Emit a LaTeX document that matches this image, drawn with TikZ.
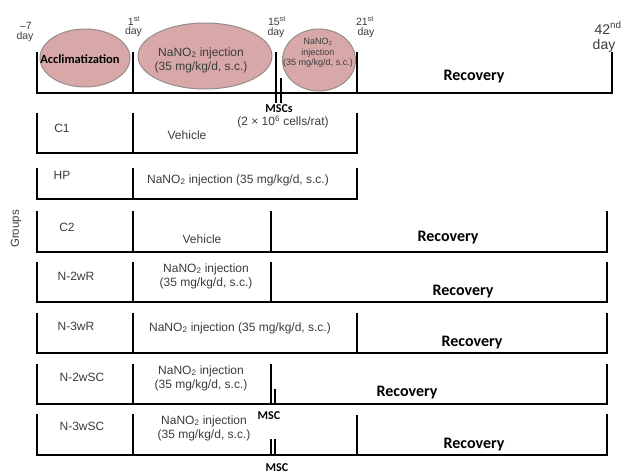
\documentclass[tikz,border=0pt]{standalone}
\usepackage{fontspec}
\setmainfont{Liberation Sans}
\newfontfamily\calfont{Carlito}
\usetikzlibrary{shapes.geometric}
\definecolor{ellfill}{RGB}{216,168,168}
\definecolor{ellline}{RGB}{150,140,140}
\definecolor{txt}{RGB}{60,60,60}
\begin{document}
\begin{tikzpicture}[x=1pt,y=-1pt,
  bar/.style={line width=1.6pt},
  ar/.style={font=\fontsize{12}{14}\selectfont, text=txt, inner sep=0pt, align=center},
  sm/.style={font=\fontsize{10.5}{12}\selectfont, text=txt, inner sep=0pt, align=center},
  tiny/.style={font=\fontsize{9}{10.5}\selectfont, text=txt, inner sep=0pt, align=center},
  big/.style={font=\fontsize{14}{15}\selectfont, text=txt, inner sep=0pt},
  rec/.style={font=\calfont\bfseries\fontsize{16}{18}\selectfont, inner sep=0pt},
  msc/.style={font=\calfont\bfseries\fontsize{12}{13}\selectfont, inner sep=0pt},
  ell/.style={ellipse, fill=ellfill, draw=ellline, line width=1pt, inner sep=0pt}]
\useasboundingbox (0,0) rectangle (622,475);
\fill[white] (0,0) rectangle (622,475);
% ellipses
\node[ell, minimum width=90pt, minimum height=58pt] (e1) at (85,58) {};
\node[ell, minimum width=134pt, minimum height=66pt] (e2) at (205,56) {};
\node[ell, minimum width=73pt, minimum height=62pt] (e3) at (319,60) {};
\node[font=\calfont\bfseries\fontsize{12.5}{14}\selectfont, inner sep=0pt] (acc) at (80,59) {Acclimatization};
\node[ar] (e2t) at (201,60) {NaNO\textsubscript{2} injection\\(35 mg/kg/d, s.c.)};
\node[tiny] (e3t) at (318,53) {NaNO\textsubscript{2}\\injection\\(35 mg/kg/d, s.c.)};
% timeline
\draw[bar] (37,52) -- (37,93) -- (612,93) -- (612,52);
\draw[bar] (133,52) -- (133,93);
\draw[bar] (276,52) -- (276,103);
\draw[bar] (281,78) -- (281,103);
\draw[bar] (357,52) -- (357,93);
% day labels
\node[sm] (dm7) at (26,26) {–7};
\node[sm] (dm7d) at (25,37) {day};
\node[sm] (d1) at (134,21) {1\textsuperscript{st}};
\node[sm] (d1d) at (133.5,32) {day};
\node[sm] (d15) at (277,21) {15\textsuperscript{st}};
\node[sm] (d15d) at (276,33) {day};
\node[sm] (d21) at (365,21) {21\textsuperscript{st}};
\node[sm] (d21d) at (366,33) {day};
\node[big] (d42) at (608,28) {42\textsuperscript{nd}};
\node[big] (d42d) at (604,45.5) {day};
\node[rec] (rtop) at (474,77) {Recovery};
\node[msc] (mscs) at (279,109) {MSCs};
\node[ar] (cells) at (283,122) {(2 × 10\textsuperscript{6} cells/rat)};
% C1
\draw[bar] (37,113) -- (37,153) -- (357,153) -- (357,113);
\draw[bar] (133,113) -- (133,153);
\node[ar] (c1) at (62,128) {C1};
\node[ar] (c1v) at (187,135) {Vehicle};
% HP
\draw[bar] (37,168) -- (37,199) -- (357,199) -- (357,168);
\draw[bar] (133,168) -- (133,199);
\node[ar] (hp) at (62,175) {HP};
\node[ar] (hpt) at (238,180) {NaNO\textsubscript{2} injection (35 mg/kg/d, s.c.)};
% Groups
\node[font=\fontsize{11.5}{13}\selectfont, text=txt, inner sep=0pt, rotate=90] (grp) at (16,229) {Groups};
% C2
\draw[bar] (37,211) -- (37,252) -- (607,252) -- (607,211);
\draw[bar] (133,211) -- (133,252);
\draw[bar] (271,211) -- (271,252);
\node[ar] (c2) at (67,227) {C2};
\node[ar] (c2v) at (202,239) {Vehicle};
\node[rec] (c2r) at (448,238) {Recovery};
% N-2wR
\draw[bar] (37,262) -- (37,302) -- (607,302) -- (607,262);
\draw[bar] (133,262) -- (133,302);
\draw[bar] (271,262) -- (271,302);
\node[ar] (n2r) at (76,276) {N-2wR};
\node[ar] (n2rt) at (206,276) {NaNO\textsubscript{2} injection\\(35 mg/kg/d, s.c.)};
\node[rec] (n2rr) at (463,292) {Recovery};
% N-3wR
\draw[bar] (37,313) -- (37,353) -- (607,353) -- (607,313);
\draw[bar] (133,313) -- (133,353);
\draw[bar] (357,313) -- (357,353);
\node[ar] (n3r) at (76,326) {N-3wR};
\node[ar] (n3rt) at (240,328) {NaNO\textsubscript{2} injection (35 mg/kg/d, s.c.)};
\node[rec] (n3rr) at (472,343) {Recovery};
% N-2wSC
\draw[bar] (37,364) -- (37,404) -- (607,404) -- (607,364);
\draw[bar] (133,364) -- (133,404);
\draw[bar] (271,364) -- (271,404);
\draw[bar] (275,389) -- (275,404);
\node[ar] (n2s) at (82,377) {N-2wSC};
\node[ar] (n2st) at (201,378) {NaNO\textsubscript{2} injection\\(35 mg/kg/d, s.c.)};
\node[rec] (n2sr) at (407,393) {Recovery};
\node[msc] (msc1) at (269,416) {MSC};
% N-3wSC
\draw[bar] (37,414) -- (37,455) -- (607,455) -- (607,414);
\draw[bar] (133,414) -- (133,455);
\draw[bar] (357,415) -- (357,455);
\draw[bar] (271,439) -- (271,455);
\draw[bar] (275,439) -- (275,455);
\node[ar] (n3s) at (82,426) {N-3wSC};
\node[ar] (n3st) at (204,428) {NaNO\textsubscript{2} injection\\(35 mg/kg/d, s.c.)};
\node[rec] (n3sr) at (474,445) {Recovery};
\node[msc] (msc2) at (277,468) {MSC};
\end{tikzpicture}
\end{document}
